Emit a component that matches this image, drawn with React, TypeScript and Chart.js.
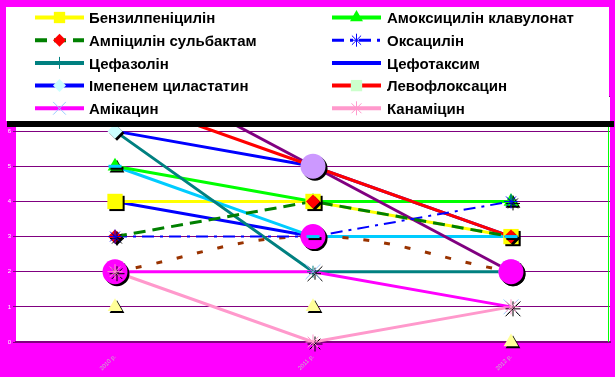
import React, { useEffect, useRef } from 'react';
import { Chart, registerables } from 'chart.js';
import { drawPoint } from 'chart.js/helpers';

Chart.register(...registerables);

// ---- data ----
const categories = ['2010 р.', '2011 р.', '2012 р.'];
const yMin = 0;
const yMax = 7;

const benzylpenicillin = [4, 4, 3];
const amoxiclav = [5, 4, 4];
const ampisulbactam = [3, 4, 3];
const oxacillin = [3, 3, 4];
const cefazolin = [6, 2, 2];
const cefotaxime = [4, 3, 3];
const imipenem = [6, 5, 3];
const levofloxacin = [7, 5, 3];
const amikacin = [2, 2, 1];
const kanamycin = [2, 0, 1];
const seriesPurple = [8, 5, 2];
const seriesBrown = [2, 3, 2];
const seriesSky = [5, 3, 3];
const seriesPaleTriangles = [1, 1, 0];

const legendNames = [
  'Бензилпеніцилін',
  'Амоксицилін клавулонат',
  'Ампіцилін сульбактам',
  'Оксацилін',
  'Цефазолін',
  'Цефотаксим',
  'Імепенем циластатин',
  'Левофлоксацин',
  'Амікацин',
  'Канаміцин',
];

// ---- styles ----
type Series = {
  label: string;
  data: number[];
  color: string | null;
  width: number;
  dash: number[];
  tension: number;
  pointStyle: string | null;
  pointFill: string;
  pointStroke: string;
  pointBorder: number;
  radius: number;
  legendRadius: number;
  lineOrder: number;
  markerOrder: number;
  inLegend: boolean;
};

const series: Series[] = [
  { label: legendNames[0], data: benzylpenicillin, color: '#ffff00', width: 3, dash: [], tension: 0, pointStyle: 'rect', pointFill: '#ffff00', pointStroke: '#ffff00', pointBorder: 0, radius: 10.8, legendRadius: 8, lineOrder: 110, markerOrder: 9, inLegend: true },
  { label: legendNames[1], data: amoxiclav, color: '#00ff00', width: 3, dash: [], tension: 0, pointStyle: 'triangle', pointFill: '#00ff00', pointStroke: '#00ff00', pointBorder: 0, radius: 8.5, legendRadius: 7.5, lineOrder: 108, markerOrder: 10, inLegend: true },
  { label: legendNames[2], data: ampisulbactam, color: '#008000', width: 3, dash: [12, 7], tension: 0, pointStyle: 'rectRot', pointFill: '#ff0000', pointStroke: '#ff0000', pointBorder: 0, radius: 7, legendRadius: 6.5, lineOrder: 100, markerOrder: 6, inLegend: true },
  { label: legendNames[3], data: oxacillin, color: '#0000ff', width: 2, dash: [12, 6, 3, 6], tension: 0, pointStyle: 'star', pointFill: '#0000ff', pointStroke: '#0000ff', pointBorder: 1, radius: 7, legendRadius: 6.5, lineOrder: 101, markerOrder: 5, inLegend: true },
  { label: legendNames[4], data: cefazolin, color: '#008080', width: 3, dash: [], tension: 0, pointStyle: 'cross', pointFill: '#008080', pointStroke: '#008080', pointBorder: 1, radius: 6, legendRadius: 6, lineOrder: 107, markerOrder: 13, inLegend: true },
  { label: legendNames[5], data: cefotaxime, color: '#0000ff', width: 3, dash: [], tension: 0, pointStyle: null, pointFill: '#0000ff', pointStroke: '#0000ff', pointBorder: 0, radius: 0, legendRadius: 0, lineOrder: 112, markerOrder: 20, inLegend: true },
  { label: legendNames[6], data: imipenem, color: '#0000ff', width: 3, dash: [], tension: 0, pointStyle: 'rectRot', pointFill: '#ccffff', pointStroke: '#ccffff', pointBorder: 0, radius: 7.5, legendRadius: 6.5, lineOrder: 111, markerOrder: 12, inLegend: true },
  { label: legendNames[7], data: levofloxacin, color: '#ff0000', width: 3, dash: [], tension: 0, pointStyle: 'rect', pointFill: '#ccffcc', pointStroke: '#ccffcc', pointBorder: 0, radius: 10.2, legendRadius: 8, lineOrder: 102, markerOrder: 11, inLegend: true },
  { label: legendNames[8], data: amikacin, color: '#ff00ff', width: 3, dash: [], tension: 0, pointStyle: 'crossRot', pointFill: '#99ccff', pointStroke: '#99ccff', pointBorder: 1, radius: 10.5, legendRadius: 9, lineOrder: 105, markerOrder: 7, inLegend: true },
  { label: legendNames[9], data: kanamycin, color: '#ff99cc', width: 3, dash: [], tension: 0, pointStyle: 'star', pointFill: '#ff99cc', pointStroke: '#ff99cc', pointBorder: 1, radius: 7.5, legendRadius: 7, lineOrder: 106, markerOrder: 2, inLegend: true },
  { label: 'Ряд 11', data: seriesPurple, color: '#800080', width: 3, dash: [], tension: 0, pointStyle: 'circle', pointFill: '#cc99ff', pointStroke: '#cc99ff', pointBorder: 0, radius: 12.5, legendRadius: 6, lineOrder: 103, markerOrder: 4, inLegend: false },
  { label: 'Ряд 12', data: seriesBrown, color: '#993300', width: 3, dash: [6, 15], tension: 0.4, pointStyle: 'circle', pointFill: '#ff00ff', pointStroke: '#ff00ff', pointBorder: 0, radius: 12.5, legendRadius: 6, lineOrder: 104, markerOrder: 3, inLegend: false },
  { label: 'Ряд 13', data: seriesSky, color: '#00ccff', width: 3, dash: [], tension: 0, pointStyle: 'line', pointFill: '#00ccff', pointStroke: '#00ccff', pointBorder: 3, radius: 6.5, legendRadius: 6, lineOrder: 109, markerOrder: 1, inLegend: false },
  { label: 'Ряд 14', data: seriesPaleTriangles, color: null, width: 0, dash: [], tension: 0, pointStyle: 'triangle', pointFill: '#ffff99', pointStroke: '#ffff99', pointBorder: 0, radius: 8.5, legendRadius: 6, lineOrder: 113, markerOrder: 14, inLegend: false },
];

const LEGEND_FONT = 'bold 15px "Liberation Sans", Arial, sans-serif';

const stylePlugin = {
  id: 'excelStyle',
  beforeDraw(chart: any) {
    const { ctx, chartArea: a } = chart;
    ctx.save();
    ctx.fillStyle = '#ff00ff';
    ctx.fillRect(0, 0, chart.width, chart.height);
    ctx.fillStyle = '#ffffff';
    ctx.fillRect(a.left, a.top, a.right - a.left, a.bottom - a.top);
    ctx.restore();
  },
  beforeDatasetsDraw(chart: any) {
    const { ctx, chartArea: a } = chart;
    ctx.save();
    ctx.strokeStyle = '#00ff00';
    ctx.lineWidth = 1;
    ctx.beginPath();
    ctx.moveTo(Math.round(a.right) - 1.5, a.top);
    ctx.lineTo(Math.round(a.right) - 1.5, a.bottom);
    ctx.stroke();
    ctx.restore();
  },
  beforeDatasetDraw(chart: any, args: any) {
    const ds = chart.data.datasets[args.index];
    if (ds && ds.isMarker) {
      const ctx = chart.ctx;
      ctx.save();
      ctx.shadowColor = '#000000';
      ctx.shadowOffsetX = 2;
      ctx.shadowOffsetY = 2;
      ctx.shadowBlur = 0;
    }
  },
  afterDatasetDraw(chart: any, args: any) {
    const ds = chart.data.datasets[args.index];
    if (ds && ds.isMarker) chart.ctx.restore();
  },
  afterDraw(chart: any) {
    const ctx = chart.ctx;
    ctx.save();
    // legend box shadow + box
    ctx.fillStyle = '#000000';
    ctx.fillRect(7, 121, 607, 6);
    ctx.fillStyle = '#ffffff';
    ctx.fillRect(6, 7, 603, 114);

    const items = series.filter((s) => s.inLegend);
    items.forEach((s, i) => {
      const col = i % 2;
      const row = Math.floor(i / 2);
      const y = 17.5 + row * 22.7;
      const x0 = col === 0 ? 35 : 332;
      const x1 = col === 0 ? 84 : 381;
      const tx = col === 0 ? 89 : 387;
      if (s.color) {
        ctx.save();
        ctx.strokeStyle = s.color;
        ctx.lineWidth = s.width + 1;
        ctx.setLineDash(s.dash);
        ctx.beginPath();
        ctx.moveTo(x0, y);
        ctx.lineTo(x1, y);
        ctx.stroke();
        ctx.restore();
      }
      if (s.pointStyle) {
        ctx.save();
        ctx.fillStyle = s.pointFill;
        ctx.strokeStyle = s.pointStroke;
        ctx.lineWidth = s.pointBorder;
        drawPoint(ctx, { pointStyle: s.pointStyle, radius: s.legendRadius, rotation: 0, borderWidth: s.pointBorder }, (x0 + x1) / 2, y);
        ctx.restore();
      }
      ctx.fillStyle = '#000000';
      ctx.font = LEGEND_FONT;
      ctx.textBaseline = 'middle';
      ctx.textAlign = 'left';
      ctx.fillText(s.label, tx, y + 1.5);
    });
    ctx.restore();
  },
};

export default function App() {
  const canvasRef = useRef<HTMLCanvasElement | null>(null);

  useEffect(() => {
    const canvas = canvasRef.current;
    if (!canvas) return;

    const lineSets = series
      .filter((s) => s.color)
      .map((s) => ({
        label: s.label,
        data: s.data,
        borderColor: s.color,
        backgroundColor: s.color,
        borderWidth: s.width,
        borderDash: s.dash,
        tension: s.tension,
        pointRadius: 0,
        pointHoverRadius: 0,
        fill: false,
        order: s.lineOrder,
        isMarker: false,
      }));

    const markerSets = series
      .filter((s) => s.pointStyle)
      .map((s) => ({
        label: s.label + ' (маркер)',
        data: s.data,
        showLine: false,
        pointStyle: s.pointStyle,
        pointRadius: s.radius,
        pointHoverRadius: s.radius,
        pointBackgroundColor: s.pointFill,
        pointBorderColor: s.pointStroke,
        pointBorderWidth: s.pointBorder,
        backgroundColor: s.pointFill,
        borderColor: s.pointStroke,
        clip: false,
        order: s.markerOrder,
        isMarker: true,
      }));

    const chart = new Chart(canvas, {
      type: 'line',
      data: { labels: categories, datasets: [...lineSets, ...markerSets] as any },
      options: {
        responsive: false,
        animation: false,
        events: [],
        layout: { autoPadding: false, padding: { top: 96, right: 5, left: 0, bottom: 0 } },
        plugins: { legend: { display: false }, tooltip: { enabled: false } },
        scales: {
          x: {
            type: 'category',
            offset: true,
            grid: { display: false },
            border: { display: true, color: '#800080', width: 2 },
            ticks: {
              color: '#c0c0c0',
              font: { size: 6, family: 'Arial, sans-serif' },
              minRotation: 45,
              maxRotation: 45,
              autoSkip: false,
              padding: 3,
            },
            afterFit: (s: any) => {
              s.height = 35;
              s.paddingLeft = 0;
              s.paddingRight = 0;
            },
          },
          y: {
            min: yMin,
            max: yMax,
            ticks: {
              stepSize: 1,
              color: '#ffffff',
              font: { size: 6, family: 'Arial, sans-serif' },
              padding: 2,
            },
            grid: { color: '#800080', lineWidth: 1, tickLength: 3, tickColor: '#800080' },
            border: { display: false },
            afterFit: (s: any) => {
              s.width = 16;
              s.paddingTop = 0;
              s.paddingBottom = 0;
            },
          },
        },
      } as any,
      plugins: [stylePlugin as any],
    });

    return () => chart.destroy();
  }, []);

  return (
    <div style={{ position: 'absolute', left: 0, top: 0, width: 615, height: 377 }}>
      <canvas ref={canvasRef} width={615} height={377} style={{ display: 'block' }} />
    </div>
  );
}
